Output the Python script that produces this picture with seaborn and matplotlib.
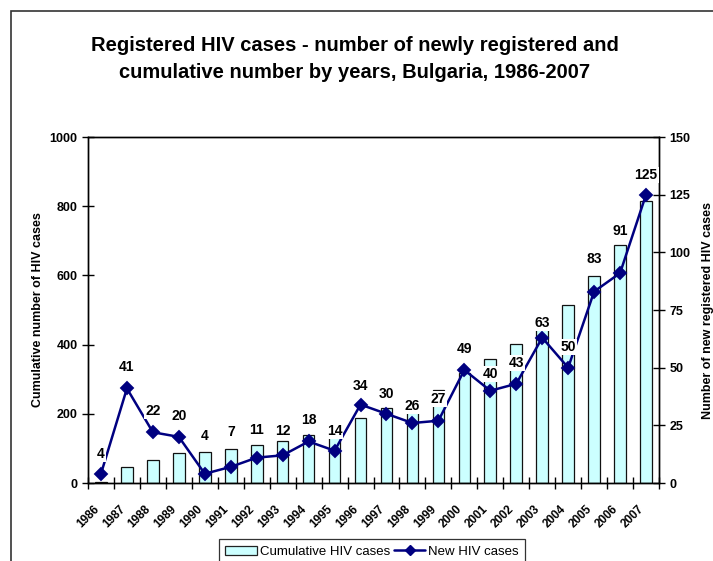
#!/usr/bin/env python
"""Registered HIV cases in Bulgaria, 1986-2007: cumulative bars plus
newly registered cases as a line on a second axis.
"""
import matplotlib
matplotlib.use('Agg')
import matplotlib.pyplot as plt
import matplotlib.patches as mpatches
import matplotlib.lines as mlines
import seaborn as sb
import pandas as pd
import numpy as np


years = ['1986', '1987', '1988', '1989', '1990', '1991', '1992', '1993',
         '1994', '1995', '1996', '1997', '1998', '1999', '2000', '2001',
         '2002', '2003', '2004', '2005', '2006', '2007']
new_cases = [4, 41, 22, 20, 4, 7, 11, 12, 18, 14, 34, 30, 26, 27, 49, 40,
             43, 63, 50, 83, 91, 125]
cumulative_cases = [4, 45, 67, 87, 91, 98, 109, 121, 139, 153, 187, 217,
                    243, 270, 319, 359, 402, 465, 515, 598, 689, 814]

# how far (pixels) each value label sits above its marker, as in the original
label_lift = [20, 21, 21, 21, 38, 35, 28, 24, 21, 20, 19, 20, 17, 22, 21,
              17, 21, 15, 21, 33, 42, 20]

bar_color = '#ccffff'
line_color = '#000080'


def main():
    sb.set_style('white')
    plt.rcParams['font.family'] = ['Liberation Sans', 'DejaVu Sans']
    plt.rcParams['text.color'] = 'black'
    plt.rcParams['axes.labelcolor'] = 'black'
    plt.rcParams['xtick.color'] = 'black'
    plt.rcParams['ytick.color'] = 'black'

    df = pd.DataFrame({'year': years, 'new': new_cases,
                       'cumulative': cumulative_cases})

    fig = plt.figure(figsize=(7.13, 5.61), dpi=100)
    ax = fig.add_axes([88 / 713, 1 - 483 / 561, (659 - 88) / 713,
                       (483 - 137) / 561])

    # cumulative bars on the left axis
    sb.barplot(x='year', y='cumulative', data=df, ax=ax, color=bar_color,
               saturation=1, width=0.45, edgecolor='#111111', linewidth=0.9)

    # new cases as a line on the right axis
    ax2 = ax.twinx()
    sb.pointplot(x='year', y='new', data=df, ax=ax2, color=line_color,
                 markers='D', markersize=6, linewidth=1.8, errorbar=None)

    n = len(years)
    for a in (ax, ax2):
        a.set_xlim(-0.5, n - 0.5)
        for s in a.spines.values():
            s.set_color('black')
            s.set_linewidth(1.0)
            s.set_visible(True)

    ax.set_ylim(0, 1000)
    ax.set_yticks(np.arange(0, 1001, 200))
    ax2.set_ylim(0, 150)
    ax2.set_yticks(np.arange(0, 151, 25))

    # tick marks on category boundaries; year labels drawn separately so
    # they can sit slightly left of the category centre like the original
    ax.set_xticks(np.arange(-0.5, n, 1))
    ax.set_xticklabels([])
    ax.tick_params(axis='x', which='major', direction='inout', length=8,
                   width=1, bottom=True)
    for i, yr in enumerate(years):
        ax.annotate(yr, (i, 0), xycoords=('data', 'axes fraction'),
                    xytext=(-5.8, -14.4), textcoords='offset points',
                    rotation=45, ha='right', va='top',
                    rotation_mode='anchor', fontsize=8.5, fontweight='bold',
                    annotation_clip=False)

    ax.tick_params(axis='y', direction='inout', length=8, width=1,
                   left=True, labelsize=9)
    ax2.tick_params(axis='y', direction='inout', length=8, width=1,
                    right=True, labelsize=9)
    for lab in ax.get_yticklabels() + ax2.get_yticklabels():
        lab.set_fontweight('bold')

    ax.set_xlabel('')
    ax.set_ylabel('Cumulative number of HIV cases', fontsize=9,
                  fontweight='bold', labelpad=4)
    ax2.set_xlabel('')
    ax2.set_ylabel('Number of new registered HIV cases', fontsize=9,
                   fontweight='bold', labelpad=8)
    ax2.grid(False)
    ax.grid(False)

    # value labels above the markers
    for i, v in enumerate(new_cases):
        ax2.annotate(str(v), (i, v), xytext=(0, label_lift[i] * 0.72),
                     textcoords='offset points', ha='center', va='center',
                     fontsize=10, fontweight='bold',
                     bbox=dict(boxstyle='square,pad=0.08', fc='white',
                               ec='none'), zorder=5)

    fig.text(355 / 713, 1 - 59 / 561,
             'Registered HIV cases - number of newly registered and\n'
             'cumulative number by years, Bulgaria, 1986-2007',
             ha='center', va='center', fontsize=14.5, fontweight='bold',
             linespacing=1.55)

    # outer frame (the chart area is cropped on the right and bottom)
    frame = mpatches.Rectangle((11 / 713, -0.5), 2.0, 1.5 - 11 / 561,
                               transform=fig.transFigure, fill=False,
                               ec='#333333', lw=1.2, clip_on=False)
    fig.patches.append(frame)

    bar_handle = mpatches.Patch(fc=bar_color, ec='#222222', lw=0.9,
                                label='Cumulative HIV cases')
    line_handle = mlines.Line2D([], [], color=line_color, marker='D',
                                markersize=5, lw=1.8, label='New HIV cases')
    leg = fig.legend(handles=[bar_handle, line_handle], loc='upper center',
                     bbox_to_anchor=(372 / 713, 1 - 539 / 561), ncol=2,
                     frameon=True, fancybox=False, edgecolor='black',
                     handlelength=2.4, handletextpad=0.2, columnspacing=0.3,
                     borderpad=0.5, borderaxespad=0,
                     prop={'family': ['Liberation Sans Narrow',
                                      'Liberation Sans'],
                           'size': 9.5})
    leg.get_frame().set_linewidth(0.9)

    plt.savefig('out.png', dpi=100)


if __name__ == "__main__":
    main()
